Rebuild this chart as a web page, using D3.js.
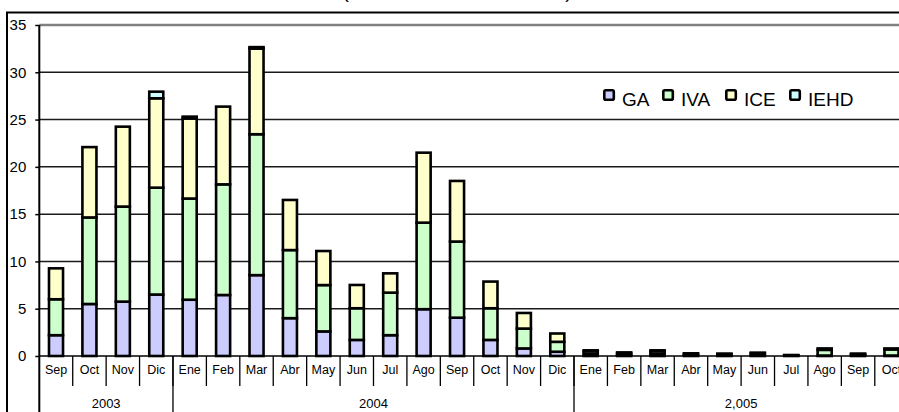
<!DOCTYPE html>
<html><head><meta charset="utf-8">
<script src="https://cdn.jsdelivr.net/npm/d3@7"></script>
<style>
html,body{margin:0;padding:0;background:#fff;overflow:hidden;}
svg{display:block;font-family:Arial,"Liberation Sans",sans-serif;}
</style></head>
<body>
<svg id="c" width="899" height="412"></svg>
<script>
const months = ["Sep","Oct","Nov","Dic","Ene","Feb","Mar","Abr","May","Jun","Jul","Ago","Sep","Oct","Nov","Dic","Ene","Feb","Mar","Abr","May","Jun","Jul","Ago","Sep","Oct"];
const yearLabels = ["2003","2004","2,005"];
const yearSpans = [[0,4],[4,16],[16,26]];
const GA   = [2.2,5.5,5.75,6.5,5.95,6.45,8.55,4.0,2.6,1.7,2.2,4.95,4.05,1.7,0.8,0.45, 0.2,0.1,0.2,0.1,0.1,0.1,0.03,0.05,0.1,0.05];
const IVA  = [3.8,9.15,10.05,11.3,10.7,11.7,14.9,7.2,4.9,3.35,4.5,9.15,8.05,3.35,2.1,1.05, 0.3,0.2,0.3,0.15,0.1,0.2,0.05,0.6,0.1,0.65];
const ICE  = [3.27,7.44,8.45,9.45,8.46,8.22,9.06,5.3,3.6,2.46,2.04,7.4,6.41,2.82,1.65,0.88, 0.1,0.08,0.1,0.03,0.05,0.05,0.02,0.15,0.05,0.1];
const IEHD = [0,0,0,0.7,0.2,0,0.15,0,0,0,0,0,0,0,0,0, 0,0,0,0,0,0,0,0,0,0];
const seriesNames = ["GA","IVA","ICE","IEHD"];
const seriesColors = ["#CCCCFF","#CCFFCC","#FFFFCC","#CCFFFF"];
const yTicks = [0,5,10,15,20,25,30,35];
const titleText = "(En millones de Bolivianos)";

(function(){
const svg = d3.select("#c");
const pL = 39.3, pR = 908.2, pT = 25, pB = 356;
const x = d3.scaleBand().domain(d3.range(months.length)).range([pL,pR]).padding(0);
const y = d3.scaleLinear().domain([0,35]).range([pB,pT]);
const bw = x.bandwidth()*0.42;

// title (cut off at the top, as in the reference)
svg.append("text").attr("x",457).attr("y",-2.2).attr("text-anchor","middle")
  .attr("font-size",19).attr("fill","#000").text(titleText);

// outer chart border
svg.append("path").attr("d",`M7,412 V12.5 H899`).attr("fill","none").attr("stroke","#000").attr("stroke-width",2);

// gridlines
svg.append("g").selectAll("line").data(yTicks.filter(t=>t>0 && t<35)).join("line")
  .attr("x1",pL).attr("x2",899).attr("y1",d=>y(d)).attr("y2",d=>y(d))
  .attr("stroke","#1a1a1a").attr("stroke-width",1.5);
svg.append("line").attr("x1",pL).attr("x2",899).attr("y1",y(35)).attr("y2",y(35))
  .attr("stroke","#808080").attr("stroke-width",2.6);

// y axis
const yAxis = d3.axisLeft(y).tickValues(yTicks).tickSize(4).tickPadding(9).tickFormat(d3.format("d"));
const ga = svg.append("g").attr("transform",`translate(${pL},0)`).call(yAxis);
ga.select(".domain").remove();
ga.selectAll(".tick line").attr("stroke","#000").attr("stroke-width",1.5);
ga.selectAll(".tick text").attr("font-size",15).attr("fill","#000").attr("font-family","Arial, 'Liberation Sans', sans-serif");

// stacked bars
const rows = months.map((m,i)=>({i, GA:GA[i], IVA:IVA[i], ICE:ICE[i], IEHD:IEHD[i]}));
const stack = d3.stack().keys(seriesNames)(rows);
stack.forEach((s,k)=>{
  svg.append("g").selectAll("rect").data(s).join("rect")
    .attr("x",d=>x(d.data.i)+x.bandwidth()/2-bw/2)
    .attr("width",bw)
    .attr("y",d=>y(d[1]))
    .attr("height",d=>y(d[0])-y(d[1]))
    .attr("fill",seriesColors[k])
    .attr("stroke","#000").attr("stroke-width",2.6);
});

// baseline / x axis
svg.append("line").attr("x1",pL).attr("x2",899).attr("y1",pB).attr("y2",pB).attr("stroke","#000").attr("stroke-width",1.5);
// left axis line
svg.append("line").attr("x1",pL).attr("x2",pL).attr("y1",pT).attr("y2",412).attr("stroke","#000").attr("stroke-width",2);

// month separators and labels
const xAxis = d3.axisBottom(x).tickSize(0).tickFormat(i=>months[i]);
const gx = svg.append("g").attr("transform",`translate(0,${pB})`).call(xAxis);
gx.select(".domain").remove();
gx.selectAll(".tick text").attr("font-size",12.5).attr("fill","#000").attr("dy",null).attr("y",18)
  .attr("font-family","Arial, 'Liberation Sans', sans-serif");
svg.append("g").selectAll("line").data(d3.range(1,months.length+1)).join("line")
  .attr("x1",i=>x(i-1)+x.bandwidth()).attr("x2",i=>x(i-1)+x.bandwidth())
  .attr("y1",pB).attr("y2",pB+30).attr("stroke","#000").attr("stroke-width",1.3);

// year separators and labels
svg.append("g").selectAll("line").data(yearSpans.slice(1)).join("line")
  .attr("x1",d=>x(d[0])).attr("x2",d=>x(d[0])).attr("y1",pB).attr("y2",412)
  .attr("stroke","#000").attr("stroke-width",1.3);
svg.append("g").selectAll("text").data(yearSpans).join("text")
  .attr("x",d=>(x(d[0])+x(d[1]-1)+x.bandwidth())/2).attr("y",408)
  .attr("text-anchor","middle").attr("font-size",13).attr("fill","#000")
  .text((d,i)=>yearLabels[i]);

// legend
const legX = [603,662,725,789];
const lg = svg.append("g");
seriesNames.forEach((n,k)=>{
  lg.append("rect").attr("x",legX[k]+1.3).attr("y",90.3).attr("width",9.5).attr("height",9.5)
    .attr("rx",1.5).attr("fill",seriesColors[k]).attr("stroke","#000").attr("stroke-width",2.6);
  lg.append("text").attr("x",legX[k]+19).attr("y",106).attr("font-size",19).attr("fill","#000").text(n);
});
})();
</script>
</body></html>
